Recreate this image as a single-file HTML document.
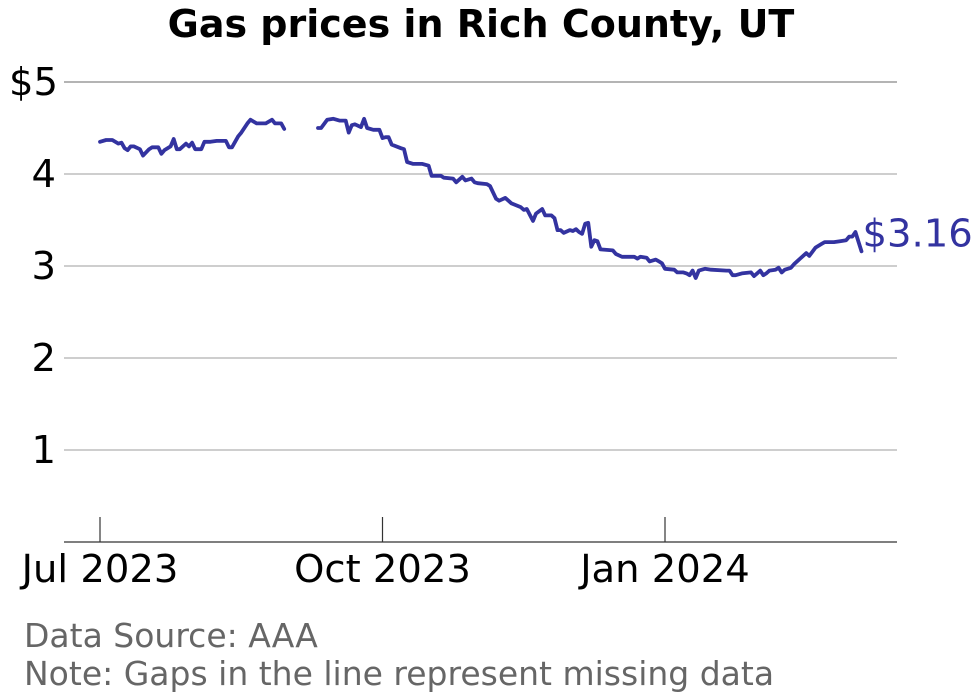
<!DOCTYPE html>
<html><head><meta charset="utf-8"><style>
body{margin:0;background:#fff;}
svg{display:block;font-family:"DejaVu Sans","Liberation Sans",sans-serif;}
</style></head><body>
<svg id="chart" width="980" height="699" viewBox="0 0 980 699">
<text x="481" y="37" text-anchor="middle" font-size="38" font-weight="bold" fill="#000">Gas prices in Rich County, UT</text>
<g id="grid"></g>
<g id="xaxis"></g>
<g id="series"></g>
<text x="24" y="647" font-size="33" fill="#666">Data Source: AAA</text>
<text x="24" y="685" font-size="33" fill="#666">Note: Gaps in the line represent missing data</text>
</svg>
<script>
const yTicks=[1,2,3,4,5];
const yTickLabels=["1","2","3","4","$5"];
const xTickDays=[0,92,184];
const xTickLabels=["Jul 2023","Oct 2023","Jan 2024"];
const days1=[0,2,4,6,7,8,9,10,11,13,14,16,17,19,20,21,23,24,25,26,28,29,30,31,33,34,36,38,41,42,43,45,46,48,49,51,54,56,57,59,60];
const prices1=[4.35,4.37,4.37,4.33,4.34,4.28,4.26,4.30,4.30,4.27,4.20,4.27,4.29,4.29,4.22,4.26,4.30,4.38,4.27,4.27,4.33,4.30,4.34,4.27,4.27,4.35,4.35,4.36,4.36,4.29,4.29,4.41,4.45,4.55,4.59,4.55,4.55,4.59,4.55,4.55,4.49];
const days2=[71,72,74,76,78,80,81,82,83,85,86,87,89,91,92,93,94,95,98,99,100,102,105,107,108,111,112,115,116,118,119,121,122,123,126,127,129,130,132,134,137,138,139,141,142,144,145,147,148,149,150,151,153,154,155,156,157,158,159,160,161,162,163,167,168,170,174,175,176,178,179,181,182,183,184,187,188,190,191,192,193,194,195,197,199,204,205,206,207,209,212,213,214,215,216,217,218,220,221,222,223,225,226,228,230,231,233,235,236,239,241,243,244,245,246,248];
const prices2=[4.50,4.50,4.59,4.60,4.58,4.58,4.45,4.53,4.54,4.51,4.60,4.50,4.48,4.48,4.39,4.40,4.40,4.32,4.28,4.27,4.13,4.11,4.11,4.09,3.98,3.98,3.96,3.95,3.91,3.97,3.93,3.95,3.91,3.90,3.89,3.87,3.73,3.71,3.74,3.68,3.64,3.61,3.62,3.49,3.57,3.62,3.55,3.55,3.52,3.39,3.39,3.36,3.39,3.38,3.40,3.37,3.35,3.46,3.47,3.21,3.28,3.27,3.18,3.17,3.13,3.10,3.10,3.08,3.10,3.09,3.05,3.07,3.05,3.03,2.97,2.96,2.93,2.93,2.92,2.90,2.95,2.87,2.95,2.97,2.96,2.95,2.95,2.90,2.90,2.92,2.93,2.89,2.92,2.95,2.90,2.92,2.95,2.96,2.98,2.93,2.96,2.98,3.02,3.08,3.14,3.11,3.20,3.24,3.26,3.26,3.27,3.28,3.32,3.32,3.37,3.16];
const lastLabel="$3.16";
const NS="http://www.w3.org/2000/svg";
const X=d=>100+d*(565/184);
const Y=v=>542-v*92;
function mk(tag,attrs,parent){const e=document.createElementNS(NS,tag);for(const k in attrs)e.setAttribute(k,attrs[k]);parent.appendChild(e);return e;}
const grid=document.getElementById('grid');
yTicks.forEach((t,i)=>{
  const l=mk('line',{x1:64,x2:897,y1:Y(t),y2:Y(t),stroke:t===5?'#888':'#b0b0b0','stroke-width':1.2},grid);
  
  
  const tx=mk('text',{x:t===5?58:56,y:Y(t)+13,'text-anchor':'end','font-size':38.5,fill:'#000'},grid);
  tx.textContent=yTickLabels[i];
  
  
});
const xa=document.getElementById('xaxis');
const ax=mk('line',{x1:64,x2:897,y1:542,y2:542,stroke:'#333','stroke-width':1.3},xa);


xTickDays.forEach((d,i)=>{
  const tk=mk('line',{x1:X(d),x2:X(d),y1:517,y2:542,stroke:'#333','stroke-width':1.2},xa);
  
  
  const tx=mk('text',{x:X(d),y:582,'text-anchor':'middle','font-size':38.5,fill:'#000'},xa);
  tx.textContent=xTickLabels[i];
  
  
});
const sg=document.getElementById('series');
[[days1,prices1],[days2,prices2]].forEach(([ds,ps],k)=>{
  const p=mk('polyline',{points:ds.map((d,i)=>X(d).toFixed(1)+','+Y(ps[i]).toFixed(1)).join(' '),fill:'none',stroke:'#3333a0','stroke-width':3.8,'stroke-linejoin':'round','stroke-linecap':'round'},sg);
  
  
});
const lx=X(days2[days2.length-1]), ly=Y(prices2[prices2.length-1]);
const lb=mk('text',{x:lx+1,y:ly-5,'font-size':38.5,fill:'#3333a0'},sg);
lb.textContent=lastLabel;


</script>
</body></html>
